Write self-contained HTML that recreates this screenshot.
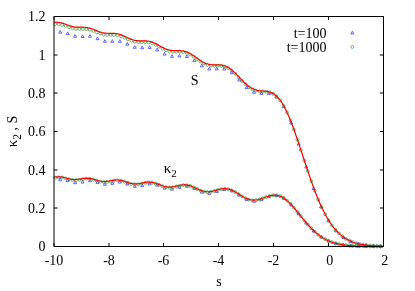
<!DOCTYPE html>
<html><head><meta charset="utf-8"><style>
html,body{margin:0;padding:0;background:#fff;}
svg{display:block}
text{font-family:"Liberation Serif",serif;font-size:14px;fill:#000;filter:grayscale(1)}
</style></head><body>
<svg width="415" height="291" viewBox="0 0 415 291">
<rect width="415" height="291" fill="#fff"/>
<path d="M58.71 180.77L61.71 180.77L60.21 178.07ZM58.71 33.15L61.71 33.15L60.21 30.45ZM66.17 181.51L69.17 181.51L67.67 178.81ZM66.17 34.57L69.17 34.57L67.67 31.87ZM73.62 183.65L76.62 183.65L75.12 180.95ZM73.62 37.23L76.62 37.23L75.12 34.53ZM81.07 183.04L84.07 183.04L82.57 180.34ZM81.07 37.53L84.07 37.53L82.57 34.83ZM88.53 181.75L91.53 181.75L90.03 179.05ZM88.53 37.28L91.53 37.28L90.03 34.58ZM95.98 183.42L98.98 183.42L97.48 180.72ZM95.98 39.67L98.98 39.67L97.48 36.97ZM103.43 185.37L106.43 185.37L104.93 182.67ZM103.43 42.32L106.43 42.32L104.93 39.62ZM110.89 184.32L113.89 184.32L112.39 181.62ZM110.89 42.35L113.89 42.35L112.39 39.65ZM118.34 183.14L121.34 183.14L119.84 180.44ZM118.34 42.33L121.34 42.33L119.84 39.63ZM125.79 185.04L128.79 185.04L127.29 182.34ZM125.79 45.13L128.79 45.13L127.29 42.43ZM133.25 187.32L136.25 187.32L134.75 184.62ZM133.25 48.31L136.25 48.31L134.75 45.61ZM140.70 186.59L143.70 186.59L142.20 183.89ZM140.70 48.77L143.70 48.77L142.20 46.07ZM148.15 184.92L151.15 184.92L149.65 182.22ZM148.15 48.44L151.15 48.44L149.65 45.74ZM155.61 186.12L158.61 186.12L157.11 183.42ZM155.61 50.86L158.61 50.86L157.11 48.16ZM163.06 189.19L166.06 189.19L164.56 186.49ZM163.06 55.10L166.06 55.10L164.56 52.40ZM170.51 190.12L173.51 190.12L172.01 187.42ZM170.51 57.35L173.51 57.35L172.01 54.65ZM177.97 188.27L180.97 188.27L179.47 185.57ZM177.97 56.99L180.97 56.99L179.47 54.29ZM185.42 187.24L188.42 187.24L186.92 184.54ZM185.42 57.57L188.42 57.57L186.92 54.87ZM192.87 189.55L195.87 189.55L194.37 186.85ZM192.87 61.54L195.87 61.54L194.37 58.84ZM200.33 193.15L203.33 193.15L201.83 190.45ZM200.33 66.90L203.33 66.90L201.83 64.20ZM207.78 194.37L210.78 194.37L209.28 191.67ZM207.78 69.91L210.78 69.91L209.28 67.21ZM215.23 192.54L218.23 192.54L216.73 189.84ZM215.23 69.89L218.23 69.89L216.73 67.19ZM222.69 190.64L225.69 190.64L224.19 187.94ZM222.69 70.03L225.69 70.03L224.19 67.33ZM230.14 191.84L233.14 191.84L231.64 189.14ZM230.14 73.71L233.14 73.71L231.64 71.01ZM237.59 196.14L240.59 196.14L239.09 193.44ZM237.59 80.99L240.59 80.99L239.09 78.29ZM245.05 200.59L248.05 200.59L246.55 197.89ZM245.05 88.63L248.05 88.63L246.55 85.93ZM252.50 202.26L255.50 202.26L254.00 199.56ZM252.50 93.27L255.50 93.27L254.00 90.57ZM259.95 200.61L262.95 200.61L261.45 197.91ZM259.95 94.35L262.95 94.35L261.45 91.65ZM267.41 197.70L270.41 197.70L268.91 195.00ZM267.41 94.59L270.41 94.59L268.91 91.89ZM274.86 196.58L277.86 196.58L276.36 193.88ZM274.86 98.06L277.86 98.06L276.36 95.36ZM282.31 199.30L285.31 199.30L283.81 196.60ZM282.31 107.72L285.31 107.72L283.81 105.02ZM289.77 205.91L292.77 205.91L291.27 203.21ZM289.77 124.04L292.77 124.04L291.27 121.34ZM297.22 214.85L300.22 214.85L298.72 212.15ZM297.22 145.15L300.22 145.15L298.72 142.45ZM304.67 224.06L307.67 224.06L306.17 221.36ZM304.67 167.97L307.67 167.97L306.17 165.27ZM312.13 232.01L315.13 232.01L313.63 229.31ZM312.13 189.53L315.13 189.53L313.63 186.83ZM319.58 238.00L322.58 238.00L321.08 235.30ZM319.58 207.78L322.58 207.78L321.08 205.08ZM327.03 242.06L330.03 242.06L328.53 239.36ZM327.03 221.87L330.03 221.87L328.53 219.17ZM334.49 244.58L337.49 244.58L335.99 241.88ZM334.49 231.89L337.49 231.89L335.99 229.19ZM341.94 246.03L344.94 246.03L343.44 243.33ZM341.94 238.51L344.94 238.51L343.44 235.81ZM349.39 246.82L352.39 246.82L350.89 244.12ZM349.39 242.61L352.39 242.61L350.89 239.91ZM356.85 247.22L359.85 247.22L358.35 244.52ZM356.85 244.99L359.85 244.99L358.35 242.29ZM364.30 247.42L367.30 247.42L365.80 244.72ZM364.30 246.29L367.30 246.29L365.80 243.59ZM371.75 247.51L374.75 247.51L373.25 244.81ZM371.75 246.97L374.75 246.97L373.25 244.27ZM379.21 247.55L382.21 247.55L380.71 244.85ZM379.21 247.30L382.21 247.30L380.71 244.60ZM350.80 33.98L353.80 33.98L352.30 31.28Z" fill="none" stroke="#2a2aff" stroke-width="0.7" stroke-linejoin="miter"/>
<g fill="none" stroke="#3a9a3a" stroke-width="0.7"><circle cx="55.23" cy="177.72" r="1.45"/><circle cx="55.23" cy="24.13" r="1.45"/><circle cx="58.69" cy="177.35" r="1.45"/><circle cx="58.69" cy="24.27" r="1.45"/><circle cx="62.15" cy="177.54" r="1.45"/><circle cx="62.15" cy="24.88" r="1.45"/><circle cx="65.61" cy="178.29" r="1.45"/><circle cx="65.61" cy="25.95" r="1.45"/><circle cx="69.07" cy="179.27" r="1.45"/><circle cx="69.07" cy="27.22" r="1.45"/><circle cx="72.53" cy="180.03" r="1.45"/><circle cx="72.53" cy="28.30" r="1.45"/><circle cx="75.99" cy="180.21" r="1.45"/><circle cx="75.99" cy="28.93" r="1.45"/><circle cx="79.45" cy="179.83" r="1.45"/><circle cx="79.45" cy="29.08" r="1.45"/><circle cx="82.91" cy="179.20" r="1.45"/><circle cx="82.91" cy="29.03" r="1.45"/><circle cx="86.37" cy="178.77" r="1.45"/><circle cx="86.37" cy="29.16" r="1.45"/><circle cx="89.83" cy="178.89" r="1.45"/><circle cx="89.83" cy="29.77" r="1.45"/><circle cx="93.29" cy="179.62" r="1.45"/><circle cx="93.29" cy="30.89" r="1.45"/><circle cx="96.74" cy="180.68" r="1.45"/><circle cx="96.74" cy="32.29" r="1.45"/><circle cx="100.20" cy="181.63" r="1.45"/><circle cx="100.20" cy="33.62" r="1.45"/><circle cx="103.66" cy="182.09" r="1.45"/><circle cx="103.66" cy="34.53" r="1.45"/><circle cx="107.12" cy="181.92" r="1.45"/><circle cx="107.12" cy="34.91" r="1.45"/><circle cx="110.58" cy="181.31" r="1.45"/><circle cx="110.58" cy="34.92" r="1.45"/><circle cx="114.04" cy="180.66" r="1.45"/><circle cx="114.04" cy="34.91" r="1.45"/><circle cx="117.50" cy="180.41" r="1.45"/><circle cx="117.50" cy="35.25" r="1.45"/><circle cx="120.96" cy="180.78" r="1.45"/><circle cx="120.96" cy="36.15" r="1.45"/><circle cx="124.42" cy="181.73" r="1.45"/><circle cx="124.42" cy="37.56" r="1.45"/><circle cx="127.88" cy="182.93" r="1.45"/><circle cx="127.88" cy="39.20" r="1.45"/><circle cx="131.34" cy="183.94" r="1.45"/><circle cx="131.34" cy="40.68" r="1.45"/><circle cx="134.80" cy="184.42" r="1.45"/><circle cx="134.80" cy="41.70" r="1.45"/><circle cx="138.26" cy="184.26" r="1.45"/><circle cx="138.26" cy="42.16" r="1.45"/><circle cx="141.72" cy="183.62" r="1.45"/><circle cx="141.72" cy="42.20" r="1.45"/><circle cx="145.18" cy="182.89" r="1.45"/><circle cx="145.18" cy="42.18" r="1.45"/><circle cx="148.64" cy="182.47" r="1.45"/><circle cx="148.64" cy="42.46" r="1.45"/><circle cx="152.10" cy="182.66" r="1.45"/><circle cx="152.10" cy="43.30" r="1.45"/><circle cx="155.56" cy="183.51" r="1.45"/><circle cx="155.56" cy="44.76" r="1.45"/><circle cx="159.02" cy="184.81" r="1.45"/><circle cx="159.02" cy="46.63" r="1.45"/><circle cx="162.48" cy="186.15" r="1.45"/><circle cx="162.48" cy="48.57" r="1.45"/><circle cx="165.94" cy="187.15" r="1.45"/><circle cx="165.94" cy="50.20" r="1.45"/><circle cx="169.39" cy="187.54" r="1.45"/><circle cx="169.39" cy="51.26" r="1.45"/><circle cx="172.85" cy="187.27" r="1.45"/><circle cx="172.85" cy="51.72" r="1.45"/><circle cx="176.31" cy="186.53" r="1.45"/><circle cx="176.31" cy="51.77" r="1.45"/><circle cx="179.77" cy="185.70" r="1.45"/><circle cx="179.77" cy="51.75" r="1.45"/><circle cx="183.23" cy="185.16" r="1.45"/><circle cx="183.23" cy="52.04" r="1.45"/><circle cx="186.69" cy="185.22" r="1.45"/><circle cx="186.69" cy="52.93" r="1.45"/><circle cx="190.15" cy="185.99" r="1.45"/><circle cx="190.15" cy="54.52" r="1.45"/><circle cx="193.61" cy="187.35" r="1.45"/><circle cx="193.61" cy="56.70" r="1.45"/><circle cx="197.07" cy="189.00" r="1.45"/><circle cx="197.07" cy="59.19" r="1.45"/><circle cx="200.53" cy="190.54" r="1.45"/><circle cx="200.53" cy="61.59" r="1.45"/><circle cx="203.99" cy="191.64" r="1.45"/><circle cx="203.99" cy="63.56" r="1.45"/><circle cx="207.45" cy="192.08" r="1.45"/><circle cx="207.45" cy="64.89" r="1.45"/><circle cx="210.91" cy="191.82" r="1.45"/><circle cx="210.91" cy="65.55" r="1.45"/><circle cx="214.37" cy="191.04" r="1.45"/><circle cx="214.37" cy="65.70" r="1.45"/><circle cx="217.83" cy="190.04" r="1.45"/><circle cx="217.83" cy="65.68" r="1.45"/><circle cx="221.29" cy="189.20" r="1.45"/><circle cx="221.29" cy="65.86" r="1.45"/><circle cx="224.75" cy="188.84" r="1.45"/><circle cx="224.75" cy="66.61" r="1.45"/><circle cx="228.21" cy="189.19" r="1.45"/><circle cx="228.21" cy="68.14" r="1.45"/><circle cx="231.67" cy="190.30" r="1.45"/><circle cx="231.67" cy="70.53" r="1.45"/><circle cx="235.13" cy="192.04" r="1.45"/><circle cx="235.13" cy="73.65" r="1.45"/><circle cx="238.59" cy="194.17" r="1.45"/><circle cx="238.59" cy="77.23" r="1.45"/><circle cx="242.05" cy="196.36" r="1.45"/><circle cx="242.05" cy="80.92" r="1.45"/><circle cx="245.50" cy="198.27" r="1.45"/><circle cx="245.50" cy="84.33" r="1.45"/><circle cx="248.96" cy="199.63" r="1.45"/><circle cx="248.96" cy="87.17" r="1.45"/><circle cx="252.42" cy="200.29" r="1.45"/><circle cx="252.42" cy="89.25" r="1.45"/><circle cx="255.88" cy="200.20" r="1.45"/><circle cx="255.88" cy="90.55" r="1.45"/><circle cx="259.34" cy="199.48" r="1.45"/><circle cx="259.34" cy="91.20" r="1.45"/><circle cx="262.80" cy="198.34" r="1.45"/><circle cx="262.80" cy="91.48" r="1.45"/><circle cx="266.26" cy="197.06" r="1.45"/><circle cx="266.26" cy="91.75" r="1.45"/><circle cx="269.72" cy="195.95" r="1.45"/><circle cx="269.72" cy="92.42" r="1.45"/><circle cx="273.18" cy="195.30" r="1.45"/><circle cx="273.18" cy="93.88" r="1.45"/><circle cx="276.64" cy="195.34" r="1.45"/><circle cx="276.64" cy="96.45" r="1.45"/><circle cx="280.10" cy="196.21" r="1.45"/><circle cx="280.10" cy="100.35" r="1.45"/><circle cx="283.56" cy="197.97" r="1.45"/><circle cx="283.56" cy="105.70" r="1.45"/><circle cx="287.02" cy="200.57" r="1.45"/><circle cx="287.02" cy="112.47" r="1.45"/><circle cx="290.48" cy="203.90" r="1.45"/><circle cx="290.48" cy="120.54" r="1.45"/><circle cx="293.94" cy="207.76" r="1.45"/><circle cx="293.94" cy="129.68" r="1.45"/><circle cx="297.40" cy="211.96" r="1.45"/><circle cx="297.40" cy="139.62" r="1.45"/><circle cx="300.86" cy="216.29" r="1.45"/><circle cx="300.86" cy="150.05" r="1.45"/><circle cx="304.32" cy="220.56" r="1.45"/><circle cx="304.32" cy="160.64" r="1.45"/><circle cx="307.78" cy="224.63" r="1.45"/><circle cx="307.78" cy="171.11" r="1.45"/><circle cx="311.24" cy="228.36" r="1.45"/><circle cx="311.24" cy="181.18" r="1.45"/><circle cx="314.70" cy="231.70" r="1.45"/><circle cx="314.70" cy="190.66" r="1.45"/><circle cx="318.15" cy="234.61" r="1.45"/><circle cx="318.15" cy="199.39" r="1.45"/><circle cx="321.61" cy="237.09" r="1.45"/><circle cx="321.61" cy="207.26" r="1.45"/><circle cx="325.07" cy="239.16" r="1.45"/><circle cx="325.07" cy="214.23" r="1.45"/><circle cx="328.53" cy="240.84" r="1.45"/><circle cx="328.53" cy="220.29" r="1.45"/><circle cx="331.99" cy="242.20" r="1.45"/><circle cx="331.99" cy="225.47" r="1.45"/><circle cx="335.45" cy="243.27" r="1.45"/><circle cx="335.45" cy="229.83" r="1.45"/><circle cx="338.91" cy="244.10" r="1.45"/><circle cx="338.91" cy="233.44" r="1.45"/><circle cx="342.37" cy="244.74" r="1.45"/><circle cx="342.37" cy="236.39" r="1.45"/><circle cx="345.83" cy="245.22" r="1.45"/><circle cx="345.83" cy="238.76" r="1.45"/><circle cx="349.29" cy="245.58" r="1.45"/><circle cx="349.29" cy="240.64" r="1.45"/><circle cx="352.75" cy="245.85" r="1.45"/><circle cx="352.75" cy="242.11" r="1.45"/><circle cx="356.21" cy="246.04" r="1.45"/><circle cx="356.21" cy="243.25" r="1.45"/><circle cx="359.67" cy="246.18" r="1.45"/><circle cx="359.67" cy="244.12" r="1.45"/><circle cx="363.13" cy="246.28" r="1.45"/><circle cx="363.13" cy="244.77" r="1.45"/><circle cx="366.59" cy="246.35" r="1.45"/><circle cx="366.59" cy="245.26" r="1.45"/><circle cx="370.05" cy="246.40" r="1.45"/><circle cx="370.05" cy="245.62" r="1.45"/><circle cx="373.51" cy="246.43" r="1.45"/><circle cx="373.51" cy="245.88" r="1.45"/><circle cx="376.97" cy="246.45" r="1.45"/><circle cx="376.97" cy="246.07" r="1.45"/><circle cx="380.43" cy="246.47" r="1.45"/><circle cx="380.43" cy="246.20" r="1.45"/><circle cx="352.3" cy="46.9" r="1.45"/></g>
<polyline points="53.95,177.19 55.32,177.00 56.70,176.85 58.07,176.78 59.44,176.79 60.81,176.90 62.19,177.09 63.56,177.37 64.93,177.71 66.31,178.08 67.68,178.46 69.05,178.82 70.42,179.14 71.80,179.38 73.17,179.53 74.54,179.60 75.92,179.56 77.29,179.45 78.66,179.27 80.04,179.05 81.41,178.81 82.78,178.58 84.15,178.40 85.53,178.28 86.90,178.24 88.27,178.30 89.65,178.45 91.02,178.69 92.39,179.02 93.76,179.40 95.14,179.81 96.51,180.23 97.88,180.62 99.26,180.97 100.63,181.24 102.00,181.43 103.38,181.53 104.75,181.53 106.12,181.43 107.49,181.26 108.87,181.04 110.24,180.79 111.61,180.53 112.99,180.30 114.36,180.11 115.73,180.00 117.10,179.98 118.48,180.06 119.85,180.23 121.22,180.50 122.60,180.85 123.97,181.27 125.34,181.72 126.71,182.19 128.09,182.65 129.46,183.07 130.83,183.42 132.21,183.69 133.58,183.87 134.95,183.95 136.32,183.93 137.70,183.81 139.07,183.62 140.44,183.38 141.82,183.10 143.19,182.81 144.56,182.55 145.94,182.33 147.31,182.17 148.68,182.10 150.05,182.13 151.43,182.26 152.80,182.50 154.17,182.83 155.55,183.25 156.92,183.73 158.29,184.25 159.66,184.79 161.04,185.32 162.41,185.82 163.78,186.26 165.16,186.62 166.53,186.89 167.90,187.06 169.28,187.13 170.65,187.09 172.02,186.96 173.39,186.75 174.77,186.48 176.14,186.17 177.51,185.84 178.89,185.53 180.26,185.25 181.63,185.02 183.00,184.88 184.38,184.83 185.75,184.88 187.12,185.05 188.50,185.32 189.87,185.70 191.24,186.17 192.61,186.71 193.99,187.32 195.36,187.96 196.73,188.61 198.11,189.25 199.48,189.85 200.85,190.40 202.23,190.87 203.60,191.25 204.97,191.53 206.34,191.69 207.72,191.75 209.09,191.70 210.46,191.56 211.84,191.32 213.21,191.02 214.58,190.67 215.95,190.29 217.33,189.91 218.70,189.54 220.07,189.21 221.45,188.95 222.82,188.76 224.19,188.67 225.56,188.69 226.94,188.82 228.31,189.07 229.68,189.44 231.06,189.92 232.43,190.50 233.80,191.18 235.18,191.94 236.55,192.75 237.92,193.61 239.29,194.48 240.67,195.34 242.04,196.19 243.41,196.99 244.79,197.72 246.16,198.38 247.53,198.94 248.90,199.40 250.28,199.75 251.65,199.98 253.02,200.10 254.40,200.10 255.77,199.99 257.14,199.79 258.51,199.49 259.89,199.13 261.26,198.70 262.63,198.23 264.01,197.73 265.38,197.23 266.75,196.75 268.12,196.30 269.50,195.90 270.87,195.57 272.24,195.33 273.62,195.19 274.99,195.16 276.36,195.25 277.74,195.47 279.11,195.83 280.48,196.33 281.85,196.97 283.23,197.74 284.60,198.65 285.97,199.68 287.35,200.84 288.72,202.10 290.09,203.47 291.46,204.92 292.84,206.46 294.21,208.05 295.58,209.69 296.96,211.37 298.33,213.08 299.70,214.80 301.07,216.52 302.45,218.22 303.82,219.91 305.19,221.56 306.57,223.18 307.94,224.75 309.31,226.27 310.69,227.74 312.06,229.14 313.43,230.48 314.80,231.75 316.18,232.95 317.55,234.08 318.92,235.15 320.30,236.15 321.67,237.08 323.04,237.95 324.41,238.75 325.79,239.49 327.16,240.18 328.53,240.81 329.91,241.39 331.28,241.91 332.65,242.39 334.03,242.83 335.40,243.23 336.77,243.59 338.14,243.91 339.52,244.21 340.89,244.47 342.26,244.70 343.64,244.92 345.01,245.10 346.38,245.27 347.75,245.42 349.13,245.56 350.50,245.67 351.87,245.78 353.25,245.87 354.62,245.95 355.99,246.02 357.36,246.09 358.74,246.14 360.11,246.19 361.48,246.23 362.86,246.27 364.23,246.30 365.60,246.33 366.98,246.35 368.35,246.37 369.72,246.39 371.09,246.41 372.47,246.42 373.84,246.43 375.21,246.44 376.59,246.45 377.96,246.46 379.33,246.46 380.70,246.47 382.08,246.47 383.45,246.48" fill="none" stroke="#f00" stroke-width="1.2" stroke-linejoin="round"/>
<polyline points="53.95,22.09 55.32,22.11 56.70,22.18 58.07,22.30 59.44,22.50 60.81,22.77 62.19,23.12 63.56,23.53 64.93,24.00 66.31,24.49 67.68,24.99 69.05,25.47 70.42,25.92 71.80,26.31 73.17,26.63 74.54,26.87 75.92,27.04 77.29,27.14 78.66,27.18 80.04,27.20 81.41,27.20 82.78,27.21 84.15,27.26 85.53,27.36 86.90,27.54 88.27,27.79 89.65,28.13 91.02,28.54 92.39,29.02 93.76,29.54 95.14,30.10 96.51,30.66 97.88,31.21 99.26,31.71 100.63,32.16 102.00,32.53 103.38,32.82 104.75,33.04 106.12,33.17 107.49,33.25 108.87,33.28 110.24,33.28 111.61,33.29 112.99,33.31 114.36,33.39 115.73,33.52 117.10,33.73 118.48,34.03 119.85,34.42 121.22,34.89 122.60,35.43 123.97,36.03 125.34,36.67 126.71,37.31 128.09,37.95 129.46,38.56 130.83,39.11 132.21,39.59 133.58,39.99 134.95,40.30 136.32,40.53 137.70,40.67 139.07,40.76 140.44,40.79 141.82,40.80 143.19,40.80 144.56,40.83 145.94,40.89 147.31,41.02 148.68,41.23 150.05,41.53 151.43,41.92 152.80,42.41 154.17,42.99 155.55,43.65 156.92,44.37 158.29,45.12 159.66,45.90 161.04,46.67 162.41,47.40 163.78,48.09 165.16,48.71 166.53,49.25 167.90,49.69 169.28,50.04 170.65,50.30 172.02,50.47 173.39,50.57 174.77,50.62 176.14,50.63 177.51,50.63 178.89,50.65 180.26,50.71 181.63,50.82 183.00,51.01 184.38,51.30 185.75,51.69 187.12,52.18 188.50,52.79 189.87,53.50 191.24,54.30 192.61,55.18 193.99,56.11 195.36,57.09 196.73,58.08 198.11,59.06 199.48,60.00 200.85,60.90 202.23,61.72 203.60,62.45 204.97,63.09 206.34,63.61 207.72,64.04 209.09,64.36 210.46,64.58 211.84,64.73 213.21,64.81 214.58,64.84 215.95,64.86 217.33,64.87 218.70,64.91 220.07,65.00 221.45,65.16 222.82,65.42 224.19,65.77 225.56,66.25 226.94,66.86 228.31,67.60 229.68,68.48 231.06,69.48 232.43,70.60 233.80,71.82 235.18,73.14 236.55,74.52 237.92,75.96 239.29,77.42 240.67,78.88 242.04,80.32 243.41,81.72 244.79,83.06 246.16,84.31 247.53,85.47 248.90,86.51 250.28,87.44 251.65,88.25 253.02,88.93 254.40,89.49 255.77,89.94 257.14,90.29 258.51,90.55 259.89,90.74 261.26,90.88 262.63,91.00 264.01,91.11 265.38,91.24 266.75,91.42 268.12,91.67 269.50,92.02 270.87,92.49 272.24,93.11 273.62,93.88 274.99,94.83 276.36,95.98 277.74,97.34 279.11,98.91 280.48,100.71 281.85,102.74 283.23,104.99 284.60,107.46 285.97,110.16 287.35,113.06 288.72,116.17 290.09,119.46 291.46,122.93 292.84,126.55 294.21,130.32 295.58,134.20 296.96,138.19 298.33,142.26 299.70,146.39 301.07,150.57 302.45,154.76 303.82,158.97 305.19,163.16 306.57,167.31 307.94,171.43 309.31,175.47 310.69,179.44 312.06,183.33 313.43,187.11 314.80,190.78 316.18,194.33 317.55,197.76 318.92,201.05 320.30,204.20 321.67,207.22 323.04,210.09 324.41,212.82 325.79,215.41 327.16,217.85 328.53,220.16 329.91,222.32 331.28,224.35 332.65,226.25 334.03,228.02 335.40,229.67 336.77,231.19 338.14,232.61 339.52,233.92 340.89,235.12 342.26,236.23 343.64,237.25 345.01,238.18 346.38,239.03 347.75,239.80 349.13,240.51 350.50,241.15 351.87,241.73 353.25,242.25 354.62,242.73 355.99,243.15 357.36,243.54 358.74,243.88 360.11,244.19 361.48,244.46 362.86,244.71 364.23,244.93 365.60,245.12 366.98,245.29 368.35,245.44 369.72,245.58 371.09,245.70 372.47,245.80 373.84,245.89 375.21,245.97 376.59,246.04 377.96,246.11 379.33,246.16 380.70,246.21 382.08,246.25 383.45,246.28" fill="none" stroke="#f00" stroke-width="1.2" stroke-linejoin="round"/>
<path d="M54 16.5H383.5V246.5H54Z" fill="none" stroke="#000" stroke-width="1"/>
<path d="M54.0 246.5v-3.6M54.0 16.5v3.6" stroke="#000" stroke-width="1" fill="none"/>
<text x="54.0" y="265.4" text-anchor="middle">-10</text>
<path d="M109.0 246.5v-3.6M109.0 16.5v3.6" stroke="#000" stroke-width="1" fill="none"/>
<text x="109.0" y="265.4" text-anchor="middle">-8</text>
<path d="M163.5 246.5v-3.6M163.5 16.5v3.6" stroke="#000" stroke-width="1" fill="none"/>
<text x="163.5" y="265.4" text-anchor="middle">-6</text>
<path d="M218.5 246.5v-3.6M218.5 16.5v3.6" stroke="#000" stroke-width="1" fill="none"/>
<text x="218.5" y="265.4" text-anchor="middle">-4</text>
<path d="M273.5 246.5v-3.6M273.5 16.5v3.6" stroke="#000" stroke-width="1" fill="none"/>
<text x="273.5" y="265.4" text-anchor="middle">-2</text>
<path d="M328.5 246.5v-3.6M328.5 16.5v3.6" stroke="#000" stroke-width="1" fill="none"/>
<text x="329.8" y="265.4" text-anchor="middle">0</text>
<path d="M383.5 246.5v-3.6M383.5 16.5v3.6" stroke="#000" stroke-width="1" fill="none"/>
<text x="384.8" y="265.4" text-anchor="middle">2</text>
<path d="M53.95 246.50h3.6M383.45 246.50h-3.6" stroke="#000" stroke-width="1" fill="none"/>
<text x="45.6" y="251.20" text-anchor="end">0</text>
<path d="M53.95 208.00h3.6M383.45 208.00h-3.6" stroke="#000" stroke-width="1" fill="none"/>
<text x="45.6" y="212.70" text-anchor="end">0.2</text>
<path d="M53.95 170.00h3.6M383.45 170.00h-3.6" stroke="#000" stroke-width="1" fill="none"/>
<text x="45.6" y="174.70" text-anchor="end">0.4</text>
<path d="M53.95 131.50h3.6M383.45 131.50h-3.6" stroke="#000" stroke-width="1" fill="none"/>
<text x="45.6" y="136.20" text-anchor="end">0.6</text>
<path d="M53.95 93.00h3.6M383.45 93.00h-3.6" stroke="#000" stroke-width="1" fill="none"/>
<text x="45.6" y="97.70" text-anchor="end">0.8</text>
<path d="M53.95 55.00h3.6M383.45 55.00h-3.6" stroke="#000" stroke-width="1" fill="none"/>
<text x="45.6" y="59.70" text-anchor="end">1</text>
<path d="M53.95 16.50h3.6M383.45 16.50h-3.6" stroke="#000" stroke-width="1" fill="none"/>
<text x="45.6" y="21.20" text-anchor="end">1.2</text>
<text x="219" y="286" text-anchor="middle">s</text>
<text transform="translate(17.4,131.5) rotate(-90)" text-anchor="middle"><tspan font-size="15">κ</tspan><tspan dy="3.6" font-size="11.5">2</tspan><tspan dy="-3.6"> , S</tspan></text>
<text x="326.5" y="37.8" text-anchor="end">t=100</text>
<text x="326.5" y="52.2" text-anchor="end">t=1000</text>
<text x="194.6" y="85" text-anchor="middle">S</text>
<text x="163.7" y="173.1"><tspan font-size="15">κ</tspan><tspan dy="4.1" font-size="11">2</tspan></text>
</svg></body></html>
